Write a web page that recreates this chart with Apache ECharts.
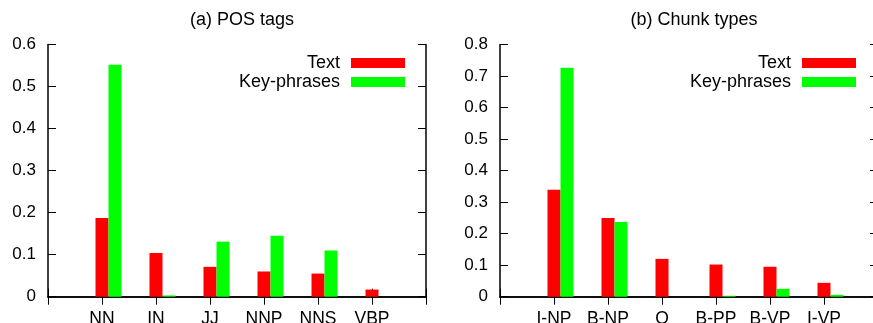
<!DOCTYPE html>
<html><head><meta charset="utf-8">
<script src="https://cdn.jsdelivr.net/npm/echarts@6/dist/echarts.min.js"></script>
<style>html,body{margin:0;padding:0;overflow:hidden;background:#fff}#c{width:880px;height:323px}</style>
</head><body><div id="c"></div>
<script>
// ---- data ----
const posTags = ['NN', 'IN', 'JJ', 'NNP', 'NNS', 'VBP'];
const posText = [0.187, 0.104, 0.071, 0.060, 0.055, 0.017];
const posKey = [0.552, 0.003, 0.131, 0.145, 0.110, 0];
const chunkTypes = ['I-NP', 'B-NP', 'O', 'B-PP', 'B-VP', 'I-VP'];
const chunkText = [0.339, 0.250, 0.120, 0.102, 0.095, 0.044];
const chunkKey = [0.726, 0.237, 0, 0.003, 0.025, 0.006];
const posYMax = 0.6, chunkYMax = 0.8, yStep = 0.1;
const titles = ['(a) POS tags', '(b) Chunk types'];
const seriesNames = ['Text', 'Key-phrases'];

// ---- build ----
const FONT = "'Liberation Sans', Arial, Helvetica, sans-serif";
const INK = '#000';
const pad = a => [''].concat(a, [' ']);
const padV = a => [null].concat(a, [null]);

const panels = [
  {cats: posTags, text: posText, key: posKey, max: posYMax, left: 48, title: titles[0], legendRight: 475},
  {cats: chunkTypes, text: chunkText, key: chunkKey, max: chunkYMax, left: 500, title: titles[1], legendRight: 24}
];

const option = {
  animation: false,
  backgroundColor: '#fff',
  title: [], grid: [], xAxis: [], yAxis: [], series: [], legend: []
};

panels.forEach((p, i) => {
  const gw = 378;
  option.grid.push({left: p.left, top: 44.5, width: gw, height: 252.2, containLabel: false, outerBoundsMode: 'none'});
  option.title.push({
    text: p.title, left: p.left + gw / 2, top: 6, textAlign: 'center',
    textStyle: {fontFamily: FONT, fontSize: 18, fontWeight: 'normal', color: INK}
  });
  const axLine = {show: true, lineStyle: {color: INK, width: 1.5}};
  const tick = {show: true, inside: true, length: 8, interval: 0, lineStyle: {color: INK, width: 1}};
  option.xAxis.push({
    type: 'category', gridIndex: i, position: 'bottom', data: pad(p.cats), boundaryGap: false,
    axisLine: axLine, axisTick: tick, splitLine: {show: false},
    axisLabel: {interval: 0, margin: 13, fontFamily: FONT, fontSize: 17.5, color: INK}
  });
  option.xAxis.push({
    type: 'category', gridIndex: i, position: 'top', data: pad(p.cats), boundaryGap: false,
    axisLine: axLine, axisTick: tick, axisLabel: {show: false}, splitLine: {show: false}
  });
  option.yAxis.push({
    type: 'value', gridIndex: i, position: 'left', min: 0, max: p.max, interval: yStep,
    axisLine: axLine, axisTick: {show: true, inside: true, length: 8, lineStyle: {color: INK}},
    splitLine: {show: false},
    axisLabel: {margin: 12, fontFamily: FONT, fontSize: 17, color: INK}
  });
  option.yAxis.push({
    type: 'value', gridIndex: i, position: 'right', min: 0, max: p.max, interval: yStep,
    axisLine: axLine, axisTick: {show: true, inside: true, length: 8, lineStyle: {color: INK}},
    splitLine: {show: false}, axisLabel: {show: false}
  });
  const xi = i * 2, yi = i * 2;
  const common = {type: 'bar', xAxisIndex: xi, yAxisIndex: yi, barWidth: 13, barGap: '0%', silent: true};
  // spacer slot so that the "Text" bar is centred on the category tick
  option.series.push(Object.assign({}, common, {name: 'spacer' + i, data: padV(p.cats.map(() => null))}));
  option.series.push(Object.assign({}, common, {name: seriesNames[0], data: padV(p.text), itemStyle: {color: '#ff0000'}}));
  option.series.push(Object.assign({}, common, {name: seriesNames[1], data: padV(p.key), itemStyle: {color: '#00ff00'}}));
  option.legend.push({
    data: seriesNames, orient: 'vertical', align: 'right', right: p.legendRight, top: 54,
    padding: 0, itemGap: 1, itemWidth: 54, itemHeight: 10, icon: 'rect', selectedMode: false,
    textStyle: {fontFamily: FONT, fontSize: 18, lineHeight: 18, color: INK, padding: [0, 6, 0, 0]}
  });
});

const chart = echarts.init(document.getElementById('c'), null, {renderer: 'canvas'});
chart.setOption(option);
</script>
</body></html>
